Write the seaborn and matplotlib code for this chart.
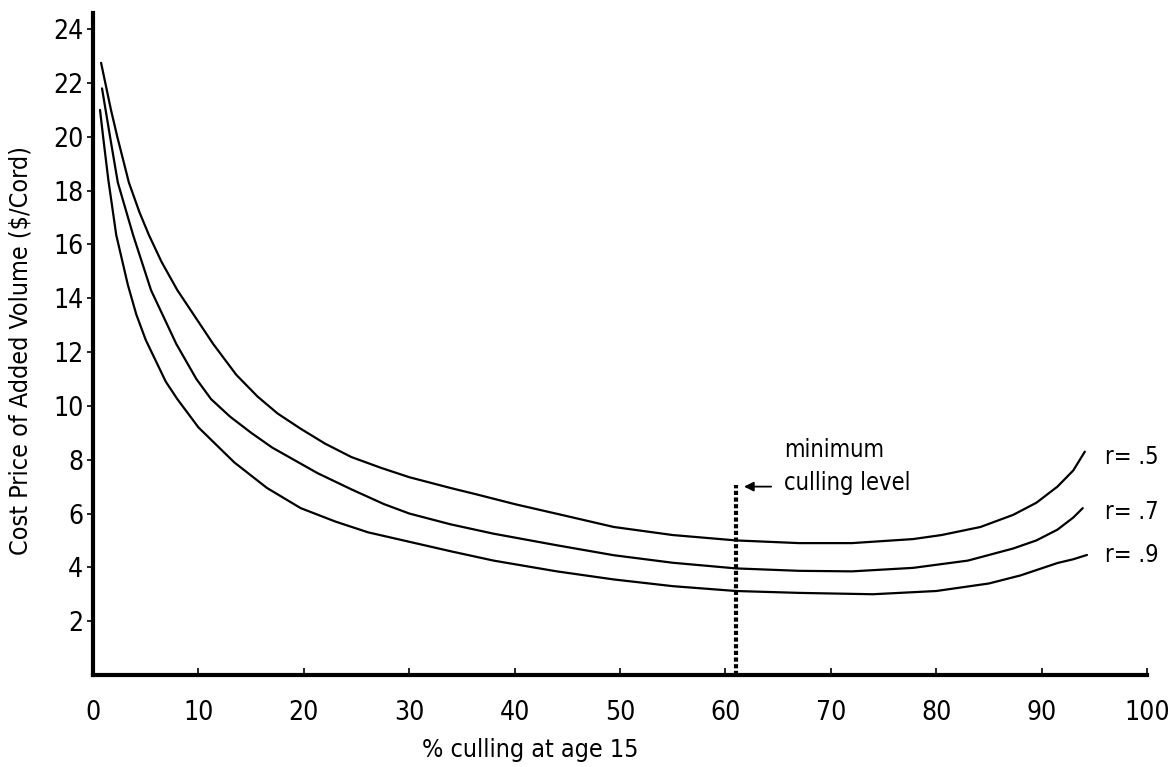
import matplotlib
matplotlib.use("Agg")
import matplotlib.pyplot as plt
import seaborn as sns
import pandas as pd

# values
x_r5 = [0.76, 1.7, 2.3, 3.4, 4.4, 5.3, 6.5, 8.0, 11.4, 13.6, 15.6, 17.5, 19.7, 22.0, 24.5, 27.3, 30.0,
        33.9, 36.5, 40.0, 45.0, 49.4, 55.0, 61.0, 67.0, 72.0, 77.8, 80.5, 84.2, 87.3, 89.5, 91.5, 93.0, 94.1]
y_r5 = [22.75, 21.0, 20.0, 18.3, 17.2, 16.35, 15.35, 14.3, 12.3, 11.15, 10.35, 9.72, 9.15, 8.6, 8.1, 7.7, 7.35,
        6.95, 6.7, 6.35, 5.9, 5.5, 5.2, 5.0, 4.9, 4.9, 5.05, 5.2, 5.5, 5.95, 6.4, 7.0, 7.6, 8.3]

x_r7 = [0.85, 1.7, 2.35, 3.8, 5.5, 7.9, 9.8, 11.2, 13.0, 15.0, 17.0, 21.3, 24.5, 27.6, 30.0, 33.9, 38.0,
        44.0, 49.4, 55.0, 61.0, 67.0, 72.0, 77.8, 83.0, 87.3, 89.5, 91.5, 93.0, 93.9]
y_r7 = [21.8, 19.8, 18.3, 16.35, 14.3, 12.3, 11.0, 10.25, 9.6, 9.0, 8.45, 7.5, 6.9, 6.35, 6.0, 5.6, 5.25,
        4.82, 4.45, 4.17, 3.96, 3.87, 3.85, 3.98, 4.25, 4.7, 5.0, 5.4, 5.85, 6.2]

x_r9 = [0.66, 1.0, 1.45, 2.2, 3.3, 4.1, 5.0, 6.9, 8.0, 10.0, 13.4, 16.5, 19.7, 23.0, 26.1, 30.0, 33.9, 38.0,
        44.0, 49.4, 55.0, 61.0, 67.0, 74.0, 80.0, 85.0, 88.0, 91.5, 93.0, 94.3]
y_r9 = [21.0, 19.85, 18.4, 16.35, 14.5, 13.4, 12.45, 10.9, 10.25, 9.2, 7.9, 6.95, 6.2, 5.7, 5.3, 4.95, 4.6, 4.25,
        3.85, 3.55, 3.3, 3.12, 3.05, 3.0, 3.12, 3.4, 3.7, 4.16, 4.3, 4.46]

curve_labels = ["r= .5", "r= .7", "r= .9"]
label_y = [8.1, 6.05, 4.45]

min_cull_x = 61
min_cull_top = 7.06

x_ticks = [0, 10, 20, 30, 40, 50, 60, 70, 80, 90, 100]
y_ticks = [2, 4, 6, 8, 10, 12, 14, 16, 18, 20, 22, 24]

sns.set_style("ticks")
plt.rcParams["font.family"] = ["DejaVu Sans"]
plt.rcParams["font.stretch"] = "condensed"
plt.rcParams["text.color"] = "black"
plt.rcParams["axes.labelcolor"] = "black"
plt.rcParams["xtick.color"] = "black"
plt.rcParams["ytick.color"] = "black"
plt.rcParams["axes.edgecolor"] = "black"

fig = plt.figure(figsize=(11.72, 7.67), dpi=100)
ax = fig.add_axes([0.0794, 0.12, 0.8993, 0.863])

curves = [(x_r5, y_r5), (x_r7, y_r7), (x_r9, y_r9)]
for (xs, ys), lab, ly in zip(curves, curve_labels, label_y):
    df = pd.DataFrame({"x": xs, "y": ys})
    sns.lineplot(data=df, x="x", y="y", color="black", linewidth=1.6, ax=ax)
    ax.text(96.0, ly, lab, fontsize=17, va="center", ha="left", clip_on=False)

# minimum culling level marker
ax.plot([min_cull_x, min_cull_x], [0, min_cull_top], color="black", linestyle=(0, (1, 0.6)), linewidth=3)
ax.annotate("", xy=(min_cull_x + 0.5, 7.0), xytext=(64.6, 7.0),
            arrowprops=dict(arrowstyle="-|>", color="black", lw=1.3, mutation_scale=14))
ax.text(65.6, 8.35, "minimum", fontsize=17, va="center", ha="left")
ax.text(65.6, 7.15, "culling level", fontsize=17, va="center", ha="left")

ax.set_xlim(0, 100)
ax.set_ylim(0, 24.6)
ax.set_xticks(x_ticks)
ax.set_yticks(y_ticks)
ax.set_xticklabels([str(t) for t in x_ticks], fontsize=19)
ax.set_yticklabels([str(t) for t in y_ticks], fontsize=19)
ax.tick_params(axis="x", direction="in", length=5, width=1.2, pad=18)
ax.tick_params(axis="y", direction="out", length=4, width=1.2, pad=3)

sns.despine(ax=ax)
ax.spines["left"].set_linewidth(3)
ax.spines["bottom"].set_linewidth(3)

ax.set_xlabel("% culling at age 15", fontsize=18)
ax.xaxis.set_label_coords(0.415, -0.095)
ax.set_ylabel("Cost Price of Added Volume ($/Cord)", fontsize=18)
ax.yaxis.set_label_coords(-0.057, 0.49)

fig.savefig("out.png", dpi=100)
